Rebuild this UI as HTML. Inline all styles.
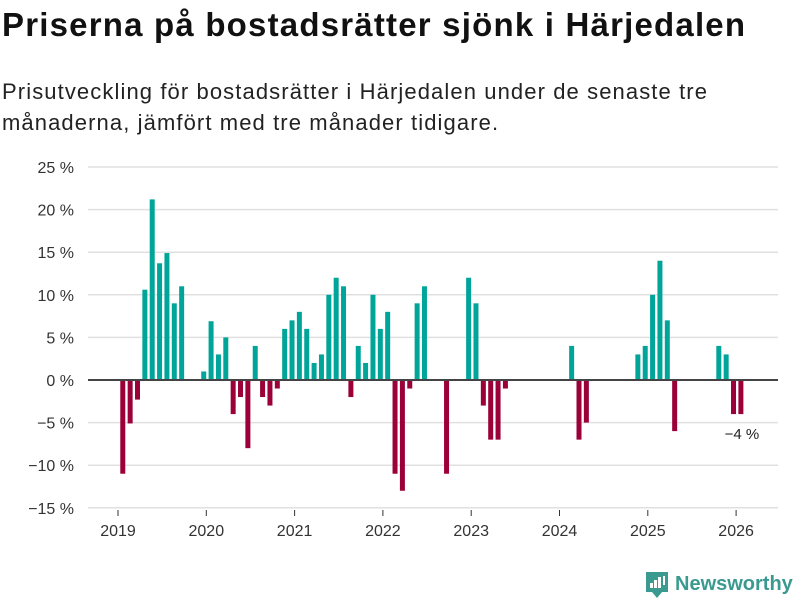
<!DOCTYPE html>
<html><head><meta charset="utf-8"><style>
body{margin:0;background:#fff;font-family:"Liberation Sans","DejaVu Sans",sans-serif;}
#wrap{position:relative;width:800px;height:600px;overflow:hidden;}
h1{position:absolute;left:2px;top:6px;margin:0;font-size:33px;font-weight:bold;color:#111;letter-spacing:1.2px;white-space:nowrap;}
p.sub{position:absolute;left:2px;top:76px;margin:0;font-size:22px;line-height:31px;color:#222;width:720px;letter-spacing:1.1px;}
</style></head><body>
<div id="wrap">
<h1>Priserna på bostadsrätter sjönk i Härjedalen</h1>
<p class="sub">Prisutveckling för bostadsrätter i Härjedalen under de senaste tre månaderna, jämfört med tre månader tidigare.</p>
<svg id="chart" width="800" height="600" style="position:absolute;left:0;top:0"></svg>
</div>
<script>
// month index from Jan 2019
const months = [0,1,2,3,4,5,6,7,8,11,12,13,14,15,16,17,18,19,20,21,22,23,24,25,26,27,28,29,30,31,32,33,34,35,36,37,38,39,40,41,44,47,48,49,50,51,52,61,62,63,70,71,72,73,74,75,81,82,83,84];
const values = [-11,-5.1,-2.3,10.6,21.2,13.7,14.9,9,11,1,6.9,3,5,-4,-2,-8,4,-2,-3,-1,6,7,8,6,2,3,10,12,11,-2,4,2,10,6,8,-11,-13,-1,9,11,-11,12,9,-3,-7,-7,-1,4,-7,-5,3,4,10,14,7,-6,4,3,-4,-4];
const yTicks = [-15,-10,-5,0,5,10,15,20,25];
const xYears = [2019,2020,2021,2022,2023,2024,2025,2026];
const lastLabel = "−4 %";

const NS="http://www.w3.org/2000/svg";
const svg=document.getElementById('chart');
const y=v=>380-v*8.52;
const xYear=yr=>118+(yr-2019)*88.3;
const xMonth=m=>xYear(2019+(m+0.65)/12);
function mk(t,a){const e=document.createElementNS(NS,t);for(const k in a)e.setAttribute(k,a[k]);svg.appendChild(e);return e;}

yTicks.forEach(t=>{
  const g=mk('line',{x1:88,x2:778,y1:y(t),y2:y(t),stroke:'#e0e0e0','stroke-width':1.5});
  
  
  const l=mk('text',{x:74,y:y(t)+6,'text-anchor':'end','font-size':16,fill:'#333','font-family':'Liberation Sans, DejaVu Sans, sans-serif'});
  l.textContent=(t<0?'−'+(-t):t)+' %';
  
  
});
xYears.forEach(yr=>{
  const tk=mk('line',{x1:xYear(yr),x2:xYear(yr),y1:510,y2:516,stroke:'#333','stroke-width':1});
  
  
  const l=mk('text',{x:xYear(yr),y:536,'text-anchor':'middle','font-size':16,fill:'#333','font-family':'Liberation Sans, DejaVu Sans, sans-serif'});
  l.textContent=yr;
  
  
});
months.forEach((m,i)=>{
  const v=values[i];
  const r=mk('rect',{x:xMonth(m)-2.5,width:5,y:Math.min(y(v),y(0)),height:Math.abs(y(v)-y(0)),fill:v>=0?'#00a59a':'#9b0038'});
  
  
});
const z=mk('line',{x1:88,x2:778,y1:y(0),y2:y(0),stroke:'#444','stroke-width':2});


const lm=months[months.length-1], lv=values[values.length-1];
const ann=mk('text',{x:xMonth(lm)+1,y:y(lv)+25,'text-anchor':'middle','font-size':15,fill:'#222','font-family':'Liberation Sans, DejaVu Sans, sans-serif'});
ann.textContent=lastLabel;


// logo
const lg=mk('g',{});


const ic=document.createElementNS(NS,'path');
ic.setAttribute('d','M646 572 h22 v20 h-6 l-5 6 l-5 -6 h-6 z');
ic.setAttribute('fill','#3a9a90');


lg.appendChild(ic);
[[650,583,3,5],[654,580,3,8],[658,577,3,11],[663,576,2,9]].forEach(b=>{
  const r=document.createElementNS(NS,'rect');
  r.setAttribute('x',b[0]);r.setAttribute('y',b[1]);r.setAttribute('width',b[2]);r.setAttribute('height',b[3]);r.setAttribute('fill','#fff');
  lg.appendChild(r);
});
const lt=mk('text',{x:675,y:590,'font-size':20,fill:'#3a9a90','font-weight':'bold','font-family':'Liberation Sans, DejaVu Sans, sans-serif'});
lt.textContent='Newsworthy';


</script>
</body></html>
